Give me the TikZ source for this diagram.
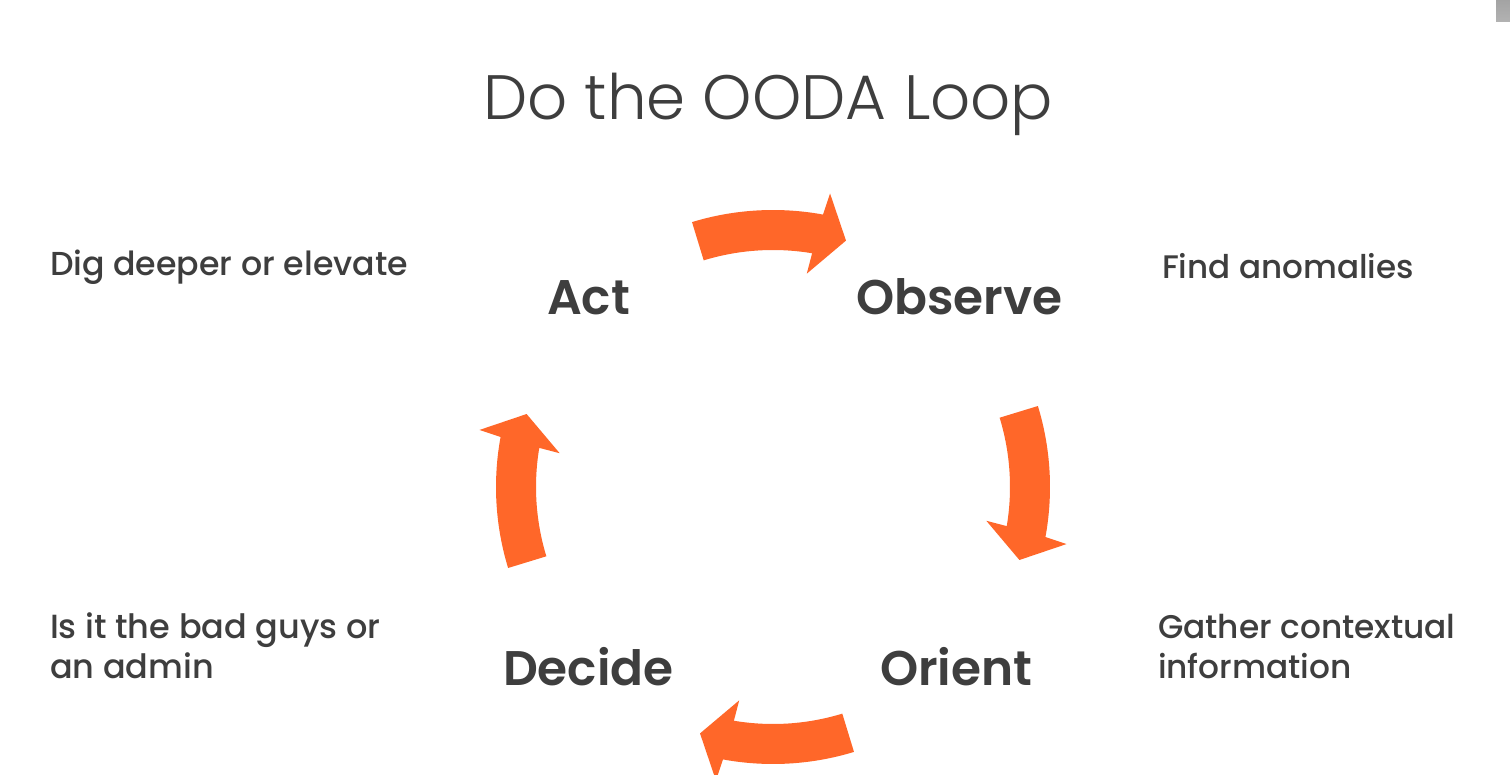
\documentclass[tikz,border=0pt]{standalone}
\usepackage{fontspec}
\usetikzlibrary{calc}
\setmainfont{Poppins}
\newfontfamily\titlefont{Poppins Light}
\newfontfamily\stagefont{Poppins SemiBold}
\newfontfamily\notefont{Poppins Medium}
\definecolor{loopfill}{RGB}{255,103,41}
\definecolor{inkgray}{RGB}{62,62,62}

% one curved arrow of the loop, centred on angle #1, running clockwise
\newcommand{\looparrow}[1]{%
  \fill[loopfill]
    ($(C)+(#1+17:277)$) arc[start angle=#1+17, end angle=#1-10.4, radius=277]
    -- ($(C)+(#1-11:299)$)
    -- ($(C)+(#1-16.5:257)$)
    -- ($(C)+(#1-9:216)$)
    -- ($(C)+(#1-9.5:237)$) arc[start angle=#1-9.5, end angle=#1+17, radius=237]
    -- cycle;}

\begin{document}
\begin{tikzpicture}[x=1pt,y=1pt,
  every node/.style={inner sep=0pt, outer sep=0pt, anchor=base west, text=inkgray},
  titletext/.style={font=\titlefont\fontsize{62.7}{70}\selectfont},
  stagetext/.style={font=\stagefont\fontsize{48.6}{54}\selectfont},
  notetext/.style={font=\notefont\fontsize{33.2}{40}\selectfont}]
\useasboundingbox (0,0) rectangle (1510,-775);
\fill[white] (0,0) rectangle (1510,-775);
% small grey tab in the top right corner
\shade[top color=gray!72, bottom color=gray!60] (1496,0) rectangle (1510,-22);

\coordinate (C) at (773,-487);

\node[titletext] (title) at (483,-120) {Do the OODA Loop};

\node[stagetext] (act) at (547,-315) {Act};
\node[stagetext] (observe) at (856,-315) {Observe};
\node[stagetext] (decide) at (503,-685) {Decide};
\node[stagetext] (orient) at (880,-685) {Orient};

\node[notetext] (dig) at (50,-276) {Dig deeper or elevate};
\node[notetext, font=\notefont\fontsize{32.6}{40}\selectfont] (find) at (1162,-279) {Find anomalies};
\node[notetext, font=\notefont\fontsize{32.8}{40}\selectfont] (gather1) at (1158,-638) {Gather contextual};
\node[notetext, font=\notefont\fontsize{32.8}{40}\selectfont] (gather2) at (1158,-678) {information};
\node[notetext, font=\notefont\fontsize{33.5}{40}\selectfont] (bad1) at (50,-638) {Is it the bad guys or};
\node[notetext, font=\notefont\fontsize{33.5}{40}\selectfont] (bad2) at (50,-678) {an admin};

\looparrow{90}
\looparrow{0}
\looparrow{-90}
\looparrow{180}
\end{tikzpicture}
\end{document}
